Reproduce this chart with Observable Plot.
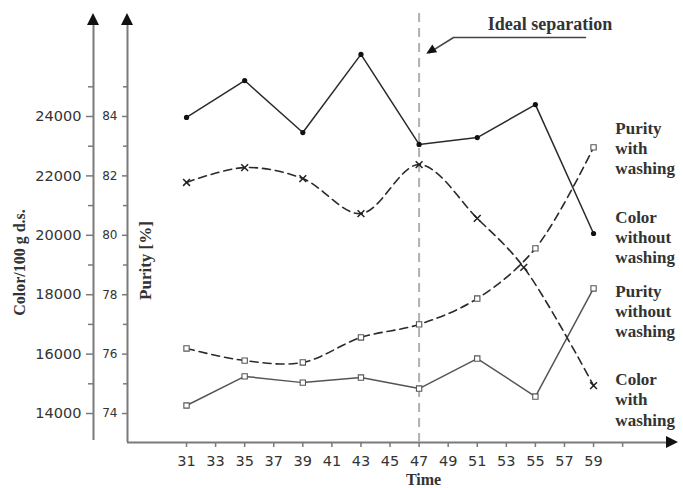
<!DOCTYPE html>
<html><head><meta charset="utf-8">
<script src="https://cdn.jsdelivr.net/npm/d3@7"></script>
<script src="https://cdn.jsdelivr.net/npm/@observablehq/plot@0.6"></script>
<style>body{margin:0;background:#fff} svg{display:block}</style>
</head><body><div id="chart"></div>
<script>
// ---- data ----
const time = [31, 35, 39, 43, 47, 51, 55, 59];
const timeColorWithWashing = [31, 35, 39, 43, 47, 51, 54.2, 59];
const colorWithoutWashing = [23970, 25210, 23460, 26090, 23060, 23290, 24400, 20060];
const colorWithWashing    = [21780, 22280, 21910, 20730, 22380, 20570, 18920, 14940];
const purityWithWashing    = [76.19, 75.78, 75.72, 76.56, 77.00, 77.87, 79.56, 82.96];
const purityWithoutWashing = [74.27, 75.25, 75.04, 75.21, 74.84, 75.85, 74.57, 78.21];

const xTicks = [31, 33, 35, 37, 39, 41, 43, 45, 47, 49, 51, 53, 55, 57, 59];
const xExtraTicks = [61];
const purityTicks = [74, 76, 78, 80, 82, 84];
const purityMinorTicks = [75, 77, 79, 81, 83, 85];
const colorTicks = [14000, 16000, 18000, 20000, 22000, 24000];
const colorMinorTicks = [15000, 17000, 19000, 21000, 23000, 25000];

const idealSeparationTime = 47;
const seriesLabels = ["Purity\nwith\nwashing", "Color\nwithout\nwashing", "Purity\nwithout\nwashing", "Color\nwith\nwashing"];
const seriesLabelValue = [82.96, 79.96, 77.47, 74.5];
const seriesLabelTime = 60.5;
const annotationText = "Ideal separation";
const annotationTime = 56.0;
const annotationValue = 87.1;
const leaderTime = [58.45, 49.37, 47.7];
const leaderValue = [86.66, 86.66, 86.15];

// domains
const xDomain = [26.94, 64.5];
const yDomain = [73.024, 87.232];

// color axis shares the purity scale: 24000 <-> 84, 1000 per unit
const colorToY = c => 74 + (c - 14000) / 1000;

const rows = (xs, ys, f = v => v) => xs.map((x, i) => ({x, y: f(ys[i])}));
const cNo = rows(time, colorWithoutWashing, colorToY);
const cWith = rows(timeColorWithWashing, colorWithWashing, colorToY);
const pWith = rows(time, purityWithWashing);
const pNo = rows(time, purityWithoutWashing);
const labelRows = seriesLabels.map((t, i) => ({t, x: seriesLabelTime, y: seriesLabelValue[i]}));
const leaderRows = leaderTime.map((x, i) => ({x, y: leaderValue[i]}));

const serif = "Liberation Serif, Times New Roman, serif";
const sans = "DejaVu Sans, sans-serif";
const axisGray = "#7a7a7a";
const ink = "#2a2a2a";

const plot = Plot.plot({
  width: 683, height: 488,
  marginLeft: 127, marginRight: 10, marginTop: 20, marginBottom: 46,
  x: {domain: xDomain},
  y: {domain: yDomain},
  style: {fontFamily: sans, background: "#fff"},
  marks: [
    // axis lines
    Plot.ruleX([xDomain[0]], {y1: yDomain[0], y2: yDomain[1], stroke: axisGray, strokeWidth: 2}),
    Plot.ruleX([xDomain[0]], {y1: yDomain[0] + 0.07, y2: yDomain[1], dx: -34, stroke: axisGray, strokeWidth: 2}),
    Plot.ruleY([yDomain[0]], {x1: xDomain[0], x2: xDomain[1] - 0.1, stroke: axisGray, strokeWidth: 2}),
    // ideal separation line
    Plot.ruleX([idealSeparationTime], {y1: yDomain[0], y2: 87.6, stroke: "#b0b0b0", strokeWidth: 2, strokeDasharray: "9,6"}),
    // purity axis (inner)
    Plot.axisY({anchor: "left", ticks: purityTicks, tickSize: 5, tickPadding: 5, label: null,
      fontSize: 12, stroke: axisGray, fill: "#333", strokeWidth: 1.5}),
    Plot.axisY({anchor: "left", ticks: purityMinorTicks, tickSize: 4, tickFormat: () => "", label: null,
      stroke: axisGray, strokeWidth: 1.5}),
    // color axis (outer)
    Plot.axisY({anchor: "left", ticks: colorTicks.map(colorToY), tickFormat: v => String(Math.round(14000 + (v - 74) * 1000)),
      dx: -34, tickSize: 7, tickPadding: 5, label: null, fontSize: 14.5, stroke: axisGray, fill: "#333", strokeWidth: 1.5}),
    Plot.axisY({anchor: "left", ticks: colorMinorTicks.map(colorToY), tickFormat: () => "", dx: -34, tickSize: 5,
      label: null, stroke: axisGray, strokeWidth: 1.5}),
    // time axis
    Plot.axisX({anchor: "bottom", ticks: xTicks, tickSize: 5, tickPadding: 8, label: null,
      fontSize: 14.5, stroke: axisGray, fill: "#333", strokeWidth: 1.5}),
    Plot.axisX({anchor: "bottom", ticks: xExtraTicks, tickSize: 5, tickFormat: () => "", label: null,
      stroke: axisGray, strokeWidth: 1.5}),
    // series
    Plot.line(cNo, {x: "x", y: "y", stroke: ink, strokeWidth: 1.5}),
    Plot.line(pNo, {x: "x", y: "y", stroke: "#555", strokeWidth: 1.5}),
    Plot.line(cWith, {x: "x", y: "y", stroke: ink, strokeWidth: 1.6, strokeDasharray: "8,5", curve: "catmull-rom"}),
    Plot.line(pWith, {x: "x", y: "y", stroke: ink, strokeWidth: 1.6, strokeDasharray: "8,5", curve: "catmull-rom"}),
    Plot.dot(cNo, {x: "x", y: "y", r: 2.6, fill: "#111", stroke: "none"}),
    Plot.dot(pNo, {x: "x", y: "y", r: 3, symbol: "square", fill: "#fff", stroke: "#555", strokeWidth: 1.1}),
    Plot.dot(pWith, {x: "x", y: "y", r: 3, symbol: "square", fill: "#fff", stroke: "#555", strokeWidth: 1.1}),
    Plot.dot(cWith, {x: "x", y: "y", r: 3.2, symbol: "times", stroke: "#222", strokeWidth: 1.5}),
    // series labels
    Plot.text(labelRows, {x: "x", y: "y", text: "t", textAnchor: "start", lineAnchor: "middle", lineHeight: 1.2,
      fontFamily: serif, fontWeight: "bold", fontSize: 17, fill: "#333"}),
    // annotation
    Plot.line(leaderRows, {x: "x", y: "y", stroke: "#444", strokeWidth: 1.5}),
    Plot.text([annotationText], {x: annotationTime, y: annotationValue, fontFamily: serif, fontWeight: "bold",
      fontSize: 18, fill: "#333", letterSpacing: "1px"}),
    // axis titles
    Plot.text(["Time"], {frameAnchor: "bottom", textAnchor: "middle", lineAnchor: "middle", dx: 23, dy: 37,
      fontFamily: serif, fontWeight: "bold", fontSize: 16, fill: "#333"}),
    Plot.text(["Color/100 g d.s."], {frameAnchor: "left", textAnchor: "middle", lineAnchor: "middle", rotate: -90, dx: -108, dy: 31,
      fontFamily: serif, fontWeight: "bold", fontSize: 16, fill: "#333"}),
    Plot.text(["Purity [%]"], {frameAnchor: "left", textAnchor: "middle", lineAnchor: "middle", rotate: -90, dx: 18, dy: 29,
      fontFamily: serif, fontWeight: "bold", fontSize: 17, fill: "#333"})
  ]
});

// arrowheads (positions derived from the scales)
const sx = plot.scale("x"), sy = plot.scale("y");
const svg = d3.select(plot);
const g = svg.append("g").attr("fill", "#111");
const yTop = sy.apply(yDomain[1]);
const xInner = sx.apply(xDomain[0]);
[xInner, xInner - 34].forEach(x => {
  g.append("path").attr("d", `M${x},${yTop - 7}L${x - 6},${yTop + 5}L${x + 6},${yTop + 5}Z`);
});
const xRight = sx.apply(xDomain[1]);
const yBottom = sy.apply(yDomain[0]);
g.append("path").attr("d", `M${xRight + 5},${yBottom}L${xRight - 7},${yBottom - 6}L${xRight - 7},${yBottom + 6}Z`);
// leader arrowhead
{
  const n = leaderRows.length;
  const p1 = [sx.apply(leaderRows[n - 2].x), sy.apply(leaderRows[n - 2].y)];
  const p2 = [sx.apply(leaderRows[n - 1].x), sy.apply(leaderRows[n - 1].y)];
  const dx = p2[0] - p1[0], dy = p2[1] - p1[1], L = Math.hypot(dx, dy);
  const ux = dx / L, uy = dy / L;
  const tip = [p2[0] + ux * 3, p2[1] + uy * 3];
  const base = [tip[0] - ux * 10, tip[1] - uy * 10];
  g.append("path").attr("d", `M${tip[0]},${tip[1]}L${base[0] - uy * 4.5},${base[1] + ux * 4.5}L${base[0] + uy * 4.5},${base[1] - ux * 4.5}Z`);
}
document.getElementById("chart").appendChild(plot);
</script>
</body></html>
